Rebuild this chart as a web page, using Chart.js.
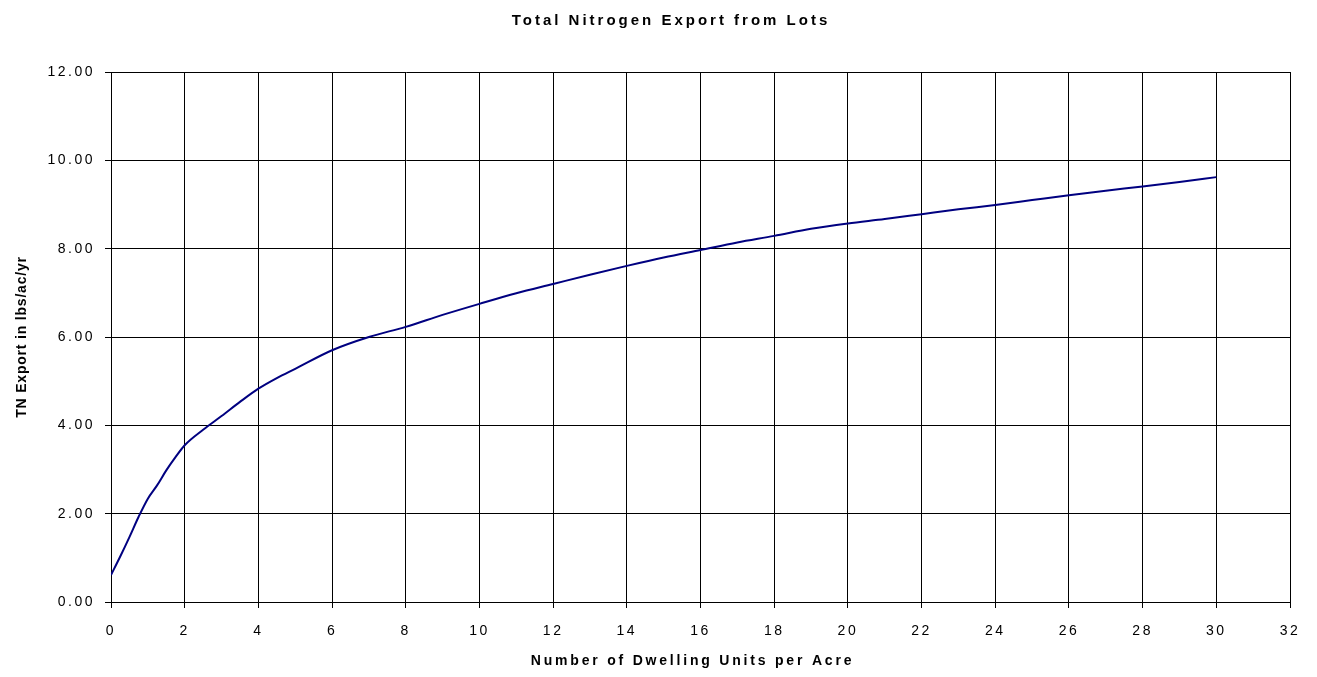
<!DOCTYPE html>
<html>
<head>
<meta charset="utf-8">
<script src="https://cdn.jsdelivr.net/npm/chart.js@4.4.0/dist/chart.umd.min.js"></script>
<style>
  html, body { margin: 0; padding: 0; background: #fff; }
  #wrap { width: 1317px; height: 677px; }
</style>
</head>
<body>
<div id="wrap"><canvas id="tnChart"></canvas></div>
<script>
const dwellingUnits = [0, 0.25, 0.5, 0.75, 1, 1.25, 1.5, 1.75, 2, 2.5, 3, 3.5, 4, 4.5, 5,
    6, 7, 8, 9, 10, 11, 12, 13, 14, 15, 16, 17, 18, 19, 20,
    21, 22, 23, 24, 25, 26, 27, 28, 29, 30];
const tnExport = [0.61, 1.03, 1.47, 1.93, 2.34, 2.64, 2.98, 3.28, 3.55, 3.90, 4.21, 4.53, 4.83, 5.07, 5.28,
    5.70, 6.00, 6.23, 6.50, 6.75, 6.99, 7.20, 7.41, 7.61, 7.80, 7.97, 8.14, 8.29, 8.45, 8.57,
    8.67, 8.78, 8.89, 8.99, 9.10, 9.21, 9.31, 9.41, 9.51, 9.62];
const xTicks = [0, 2, 4, 6, 8, 10, 12, 14, 16, 18, 20, 22, 24, 26, 28, 30, 32];
const yTicks = [0, 2, 4, 6, 8, 10, 12];

// the original has widely spaced letters; set a spacing (and small nudge) per text element
function withSpacing(obj, method, sp, dx) {
    const orig = obj[method];
    obj[method] = function (...args) {
        const c = this.ctx;
        const prev = c.letterSpacing;
        c.save();
        c.translate(dx || 0, 0);
        c.letterSpacing = sp;
        const r = orig.apply(this, args);
        c.restore();
        c.letterSpacing = prev;
        return r;
    };
}
const spacing = {
    id: 'spacing',
    beforeDraw(chart) {
        chart.ctx.letterSpacing = '2.5px';
        if (chart.$spaced) return;
        chart.$spaced = true;
        withSpacing(chart.scales.y, 'drawTitle', '0.8px', 0);
        withSpacing(chart.scales.x, 'drawTitle', '2.8px', -8);
        withSpacing(chart.titleBlock, 'draw', '3px', 26);
    }
};

const fontFamily = '"Liberation Sans", Arial, sans-serif';
const ctx = document.getElementById('tnChart').getContext('2d');
const tnChart = new Chart(ctx, {
    type: 'line',
    data: {
        datasets: [
            {
                label: 'TN Export',
                data: dwellingUnits.map((x, i) => ({ x: x, y: tnExport[i] })),
                borderColor: '#000080',
                backgroundColor: 'transparent',
                borderWidth: 2,
                pointRadius: 0,
                cubicInterpolationMode: 'monotone'
            }
        ]
    },
    options: {
        responsive: true,
        maintainAspectRatio: false,
        animation: false,
        layout: {
            padding: { left: 0, right: 27, top: 0, bottom: 7 }
        },
        plugins: {
            legend: { display: false },
            tooltip: { enabled: false },
            title: {
                display: true,
                text: 'Total Nitrogen Export from Lots',
                color: '#000',
                font: { family: fontFamily, size: 15, weight: 'bold' },
                padding: { top: 12, bottom: 42 }
            }
        },
        scales: {
            x: {
                type: 'linear',
                min: 0,
                max: 32,
                afterBuildTicks: (scale) => { scale.ticks = xTicks.map(v => ({ value: v })); },
                afterFit: (scale) => { scale.height = 68; },
                grid: { color: '#000', lineWidth: 1, tickLength: 6, tickColor: '#000' },
                border: { color: '#000', width: 1 },
                ticks: {
                    color: '#000',
                    padding: 15,
                    maxRotation: 0,
                    autoSkip: false,
                    font: { family: fontFamily, size: 14 }
                },
                title: {
                    display: true,
                    text: 'Number of Dwelling Units per Acre',
                    color: '#000',
                    font: { family: fontFamily, size: 14, weight: 'bold' },
                    padding: { top: 4, bottom: 0 }
                }
            },
            y: {
                min: 0,
                max: 12,
                afterBuildTicks: (scale) => { scale.ticks = yTicks.map(v => ({ value: v })); },
                afterFit: (scale) => { scale.width = 111; },
                grid: { color: '#000', lineWidth: 1, tickLength: 6, tickColor: '#000' },
                border: { color: '#000', width: 1 },
                ticks: {
                    color: '#000',
                    padding: 10,
                    font: { family: fontFamily, size: 14 },
                    callback: (v) => Number(v).toFixed(2)
                },
                title: {
                    display: true,
                    text: 'TN Export in lbs/ac/yr',
                    color: '#000',
                    font: { family: fontFamily, size: 14, weight: 'bold' },
                    padding: { top: 14, bottom: 0 }
                }
            }
        }
    },
    plugins: [spacing]
});
</script>
</body>
</html>
